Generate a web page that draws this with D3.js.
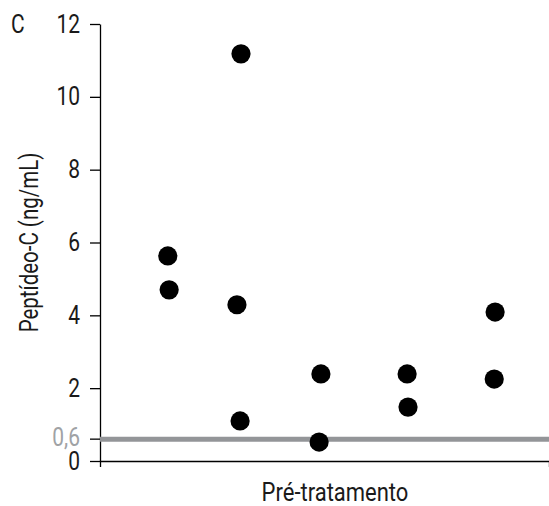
<!DOCTYPE html>
<html>
<head>
<meta charset="utf-8">
<script src="https://cdn.jsdelivr.net/npm/d3@7"></script>
<style>
  body { margin: 0; background: #fff; }
  text { font-family: "Liberation Sans Narrow", "Roboto", sans-serif; font-weight: 400; }
</style>
</head>
<body>
<div id="chart-area"></div>
<script>
// data
let xPos = [15.1, 15.4, 31.4, 30.5, 31.2, 49.2, 48.8, 68.4, 68.6, 88.0, 87.8];
let peptideC = [5.63, 4.70, 11.18, 4.29, 1.10, 2.39, 0.52, 2.39, 1.48, 4.09, 2.25];
let yTicks = [0, 2, 4, 6, 8, 10, 12];
let cutoff = 0.6;

// margins
let margin = { lft: 100, rht: 0, top: 24, bot: 45 };
let width = 549 - margin.lft - margin.rht;
let height = 506 - margin.top - margin.bot;
let narrow = 0.84; // squeeze text to look condensed

let svg = d3.select("#chart-area")
  .append("svg")
    .attr("width", 549)
    .attr("height", 506);

let g = svg.append("g")
  .attr("transform", `translate(${margin.lft}, ${margin.top})`);

let x = d3.scaleLinear().domain([0, 100]).range([0, width]);
let y = d3.scaleLinear().domain([0, 12]).range([height, 0]);

// y axis
let yAxisCall = d3.axisLeft(y)
  .tickValues(yTicks)
  .tickSize(10)
  .tickSizeOuter(0);
let yAxis = g.append("g").attr("class", "y-axis").call(yAxisCall);
yAxis.selectAll("path, line").attr("stroke", "#000").attr("stroke-width", 1.3);
yAxis.selectAll("text")
  .attr("x", null)
  .attr("transform", `translate(-20, 0) scale(${narrow}, 1)`)
  .attr("font-size", "25px")
  .attr("fill", "#1a1a1a")
  .attr("font-family", null);

// extra tick for the cutoff
let cut = g.append("g").attr("transform", `translate(0, ${y(cutoff)})`);
cut.append("line").attr("x1", -10).attr("x2", 0).attr("stroke", "#000").attr("stroke-width", 1.3);
cut.append("text")
  .attr("transform", `translate(-20, -1) scale(${narrow}, 1)`)
  .attr("dy", "0.32em")
  .attr("text-anchor", "end")
  .attr("font-size", "25px")
  .attr("fill", "#a0a2a5")
  .text("0,6");

// x axis with no ticks
let xAxisCall = d3.axisBottom(x).tickValues([]).tickSizeOuter(6);
let xAxis = g.append("g")
  .attr("class", "x-axis")
  .attr("transform", `translate(0, ${height})`)
  .call(xAxisCall);
xAxis.select("path").attr("stroke", "#000").attr("stroke-width", 1.3);

// cutoff line
g.append("line")
  .attr("x1", 0).attr("x2", width + 5)
  .attr("y1", y(cutoff)).attr("y2", y(cutoff))
  .attr("stroke", "#939598")
  .attr("stroke-width", 5);

// dots
g.selectAll("circle")
  .data(peptideC)
  .enter()
  .append("circle")
    .attr("cx", (d, i) => x(xPos[i]))
    .attr("cy", (d) => y(d))
    .attr("r", 9.6)
    .attr("fill", "#000");

// labels
svg.append("text")
  .attr("transform", `translate(11, 33) scale(${narrow}, 1)`)
  .attr("font-size", "25px")
  .attr("fill", "#1a1a1a")
  .text("C");

svg.append("text")
  .attr("transform", `translate(38, ${margin.top + height / 2}) rotate(-90) scale(0.82, 1)`)
  .attr("text-anchor", "middle")
  .attr("font-size", "25px")
  .attr("fill", "#1a1a1a")
  .text("Peptídeo-C (ng/mL)");

svg.append("text")
  .attr("transform", `translate(335, 501) scale(0.88, 1)`)
  .attr("text-anchor", "middle")
  .attr("font-size", "25px")
  .attr("fill", "#1a1a1a")
  .text("Pré-tratamento");
</script>
</body>
</html>
